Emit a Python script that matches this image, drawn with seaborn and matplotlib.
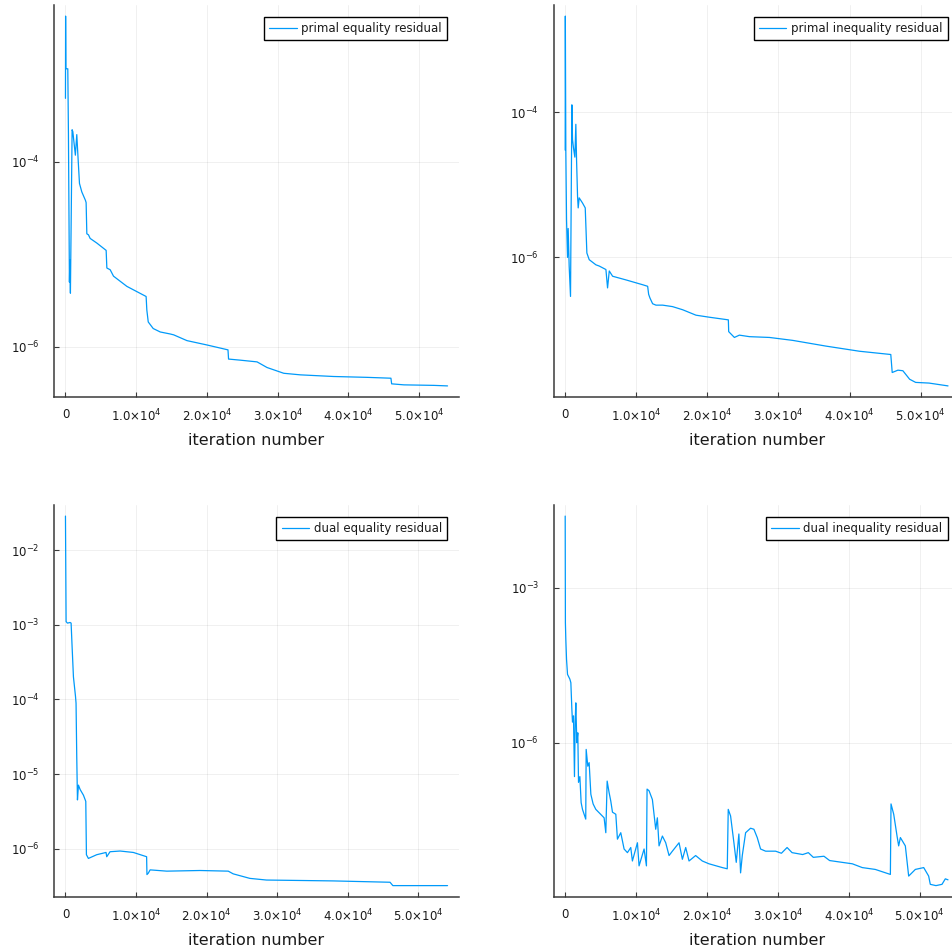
import numpy as np
import pandas as pd
import matplotlib
matplotlib.use("Agg")
import matplotlib.pyplot as plt
import seaborn as sns
from matplotlib.ticker import FixedLocator, FuncFormatter, NullLocator

# ---------------- data ----------------
pe_iter = [0, 20, 60, 330, 420, 560, 620, 700, 940, 1040, 1400, 1600, 1800, 1980, 2310,
           2830, 2920, 3020, 3250, 3490, 4430, 5750, 5850, 6320, 6790, 8680, 11400, 11500,
           11700, 12400, 13400, 14800, 15300, 17170, 20000, 22970, 23050, 24720, 27080,
           28490, 30850, 33200, 37900, 42600, 46000, 46100, 47830, 52080, 54000]
pe_resid = [4.8e-4, 3.7e-3, 1.0e-3, 1.0e-3, 2.0e-4, 5.0e-6, 8.7e-6, 3.8e-6, 2.2e-4, 2.1e-4,
            1.17e-4, 1.95e-4, 1.02e-4, 5.8e-5, 4.7e-5, 3.8e-5, 3.6e-5, 1.66e-5, 1.62e-5,
            1.48e-5, 1.32e-5, 1.10e-5, 7.1e-6, 6.8e-6, 5.8e-6, 4.5e-6, 3.5e-6, 2.5e-6,
            1.86e-6, 1.58e-6, 1.45e-6, 1.38e-6, 1.35e-6, 1.17e-6, 1.05e-6, 9.3e-7, 7.4e-7,
            7.2e-7, 6.9e-7, 6.0e-7, 5.2e-7, 5.0e-7, 4.8e-7, 4.7e-7, 4.6e-7, 4.0e-7, 3.9e-7,
            3.85e-7, 3.8e-7]

pi_iter = [0, 20, 90, 190, 330, 420, 560, 750, 940, 1030, 1170, 1360, 1500, 1600, 1740,
           1830, 1970, 2440, 2820, 3050, 3380, 4320, 4790, 5730, 5960, 6200, 6670, 8540,
           10900, 11600, 11740, 11930, 12300, 12770, 13710, 15100, 16530, 18400, 20280,
           22950, 23000, 23800, 24500, 25920, 28730, 32000, 36700, 41400, 45800, 46000,
           46800, 47500, 48450, 49300, 51170, 53850]
pi_resid = [3.0e-5, 2.1e-3, 3.0e-5, 3.3e-6, 1.0e-6, 2.5e-6, 7.6e-7, 2.9e-7, 1.26e-4, 4.2e-5,
            3.2e-5, 2.4e-5, 6.8e-5, 2.2e-5, 6.9e-6, 4.8e-6, 6.6e-6, 5.6e-6, 4.8e-6, 1.15e-6,
            9.3e-7, 7.9e-7, 7.6e-7, 6.8e-7, 3.8e-7, 6.5e-7, 5.5e-7, 4.9e-7, 4.2e-7, 4.0e-7,
            3.1e-7, 2.75e-7, 2.3e-7, 2.2e-7, 2.2e-7, 2.1e-7, 1.9e-7, 1.6e-7, 1.5e-7, 1.38e-7,
            9.5e-8, 7.9e-8, 8.5e-8, 8.1e-8, 7.9e-8, 7.2e-8, 6.0e-8, 5.1e-8, 4.6e-8, 2.6e-8,
            2.8e-8, 2.75e-8, 2.1e-8, 1.9e-8, 1.86e-8, 1.7e-8]

de_iter = [0, 90, 280, 660, 800, 940, 1130, 1420, 1500, 1600, 1700, 1840, 2080, 2550, 2880,
           2970, 3250, 4430, 5750, 5850, 6320, 7740, 9620, 11500, 11550, 11740, 12000, 14360,
           19060, 23070, 23770, 26130, 28490, 37900, 46000, 46400, 54150]
de_resid = [2.85e-2, 1.1e-3, 1.05e-3, 1.07e-3, 1.05e-3, 5.1e-4, 2.0e-4, 1.1e-4, 8.9e-5,
            1.7e-5, 4.5e-6, 7.1e-6, 6.2e-6, 5.2e-6, 4.3e-6, 8.3e-7, 7.4e-7, 8.3e-7, 8.9e-7,
            7.8e-7, 9.1e-7, 9.3e-7, 8.9e-7, 7.8e-7, 4.5e-7, 4.7e-7, 5.2e-7, 5.0e-7, 5.1e-7,
            5.0e-7, 4.6e-7, 4.0e-7, 3.8e-7, 3.7e-7, 3.55e-7, 3.2e-7, 3.2e-7]

di_iter = [0, 30, 90, 190, 330, 660, 800, 940, 1030, 1170, 1310, 1410, 1500, 1640, 1780,
           1880, 2070, 2250, 2440, 2670, 2900, 2960, 3190, 3380, 3620, 3940, 4320, 5490,
           5730, 5920, 6200, 6430, 6670, 7140, 7370, 7840, 8310, 8780, 9250, 9480, 10190,
           10420, 11130, 11460, 11550, 11830, 12300, 12770, 13000, 13240, 13710, 14180,
           14650, 15120, 16060, 16530, 17000, 17470, 18400, 19340, 20280, 22160, 22860,
           23000, 23330, 23800, 24130, 24500, 24740, 24980, 25450, 26150, 26620, 27090,
           27560, 28270, 29680, 30500, 31300, 32000, 33500, 34300, 35000, 36500, 37300,
           39060, 40500, 41900, 43740, 45870,
           45960, 46340, 46810, 47040, 47280, 47980, 48450, 49390, 50570, 51270, 51500,
           52300, 53150, 53620, 54000]
di_resid = [2.45e-2, 2.1e-4, 1.0e-4, 4.1e-5, 2.1e-5, 1.7e-5, 1.45e-5, 4.5e-6, 2.5e-6, 3.3e-6,
            2.2e-7, 2.5e-6, 5.9e-6, 1.0e-6, 1.55e-6, 1.7e-7, 2.2e-7, 6.9e-8, 5.1e-8, 4.1e-8,
            3.3e-8, 7.4e-7, 3.5e-7, 4.1e-7, 1.0e-7, 6.5e-8, 5.1e-8, 3.5e-8, 1.8e-8, 1.8e-7,
            1.07e-7, 7.4e-8, 4.5e-8, 4.1e-8, 1.35e-8, 1.8e-8, 8.7e-9, 7.4e-9, 9.3e-9, 5.1e-9,
            1.15e-8, 4.1e-9, 8.7e-9, 4.1e-9, 1.26e-7, 1.17e-7, 7.9e-8, 2.1e-8, 3.5e-8, 1.0e-8,
            1.55e-8, 1.15e-8, 6.5e-9, 7.9e-9, 1.15e-8, 5.5e-9, 9.3e-9, 5.1e-9, 6.5e-9, 5.1e-9,
            4.5e-9, 3.8e-9, 3.6e-9, 5.1e-8, 3.8e-8, 1.15e-8, 4.8e-9, 1.7e-8, 3.0e-9, 6.5e-9,
            1.8e-8, 2.2e-8, 2.1e-8, 1.45e-8, 8.7e-9, 7.9e-9, 7.9e-9, 7.2e-9, 9.3e-9, 7.4e-9,
            6.8e-9, 7.4e-9, 6.0e-9, 6.3e-9, 5.2e-9,
            4.8e-9, 4.5e-9, 3.8e-9, 3.5e-9, 2.8e-9,
            6.5e-8, 4.1e-8, 1.55e-8, 1.0e-8, 1.45e-8, 1.0e-8, 2.6e-9, 3.5e-9, 3.8e-9, 2.6e-9,
            1.8e-9, 1.7e-9, 1.8e-9, 2.3e-9, 2.2e-9]

series_labels = ["primal equality residual", "primal inequality residual",
                 "dual equality residual", "dual inequality residual"]
x_ticks = [0, 10000, 20000, 30000, 40000, 50000]
y_ticks = [[1e-4, 1e-6], [1e-4, 1e-6], [1e-2, 1e-3, 1e-4, 1e-5, 1e-6], [1e-3, 1e-6]]
x_label = "iteration number"

# ---------------- style ----------------
sns.set_theme(style="ticks")
plt.rcParams["font.family"] = ["DejaVu Sans"]
plt.rcParams["mathtext.fontset"] = "dejavusans"

LINE = "#009AFA"
AXC = "#3a3a3a"
W = 952.0


def px_rect(left, top, right, bottom):
    return [left / W, 1 - bottom / W, (right - left) / W, (bottom - top) / W]


positions = [
    px_rect(54, 5, 459, 397),
    px_rect(553.7, 5, 959.5, 397),
    px_rect(54, 505, 459, 896.7),
    px_rect(553.7, 505, 959.5, 896.7),
]

data = [(pe_iter, pe_resid), (pi_iter, pi_resid), (de_iter, de_resid), (di_iter, di_resid)]


def fmt_x(v, pos):
    if abs(v) < 1e-9:
        return "0"
    return r"$%.1f{\times}10^{4}$" % (v / 1e4)


def fmt_y(v, pos):
    return r"$10^{%d}$" % int(round(np.log10(v)))


fig = plt.figure(figsize=(9.52, 9.52), dpi=100)

for pos, (xs, ys), label, yt in zip(positions, data, series_labels, y_ticks):
    ax = fig.add_axes(pos)
    df = pd.DataFrame({"iteration": xs, "residual": ys})
    sns.lineplot(data=df, x="iteration", y="residual", ax=ax, color=LINE,
                 linewidth=0.9, estimator=None, sort=False, label=label)
    ax.set_yscale("log")

    xmin, xmax = min(xs), max(xs)
    xpad = 0.03 * (xmax - xmin)
    ax.set_xlim(xmin - xpad, xmax + xpad)
    lo, hi = np.log10(min(ys)), np.log10(max(ys))
    ypad = 0.03 * (hi - lo)
    ax.set_ylim(10 ** (lo - ypad), 10 ** (hi + ypad))

    ax.xaxis.set_major_locator(FixedLocator(x_ticks))
    ax.xaxis.set_major_formatter(FuncFormatter(fmt_x))
    ax.xaxis.set_minor_locator(NullLocator())
    ax.yaxis.set_major_locator(FixedLocator(yt))
    ax.yaxis.set_major_formatter(FuncFormatter(fmt_y))
    ax.yaxis.set_minor_locator(NullLocator())

    ax.grid(True, color="black", alpha=0.06, linewidth=0.7)
    for s in ["top", "right"]:
        ax.spines[s].set_visible(False)
    for s in ["left", "bottom"]:
        ax.spines[s].set_color(AXC)
        ax.spines[s].set_linewidth(1.1)

    ax.tick_params(axis="both", direction="in", length=3.5, width=0.8, color=AXC,
                   labelsize=8.5, labelcolor="#1a1a1a")
    ax.tick_params(axis="x", pad=8)
    ax.tick_params(axis="y", pad=10.5)

    ax.set_xlabel(x_label, fontsize=11.5, labelpad=6, color="#1a1a1a")
    ax.set_ylabel("")

    leg = ax.legend(loc="upper right", fontsize=8.5, frameon=True, fancybox=False,
                    edgecolor="black", framealpha=1.0, borderaxespad=1.0,
                    handlelength=2.3, handletextpad=0.4, borderpad=0.45)
    leg.get_frame().set_linewidth(1.0)
    for t in leg.get_texts():
        t.set_color("#1a1a1a")

fig.savefig("out.png", dpi=100, facecolor="white")
